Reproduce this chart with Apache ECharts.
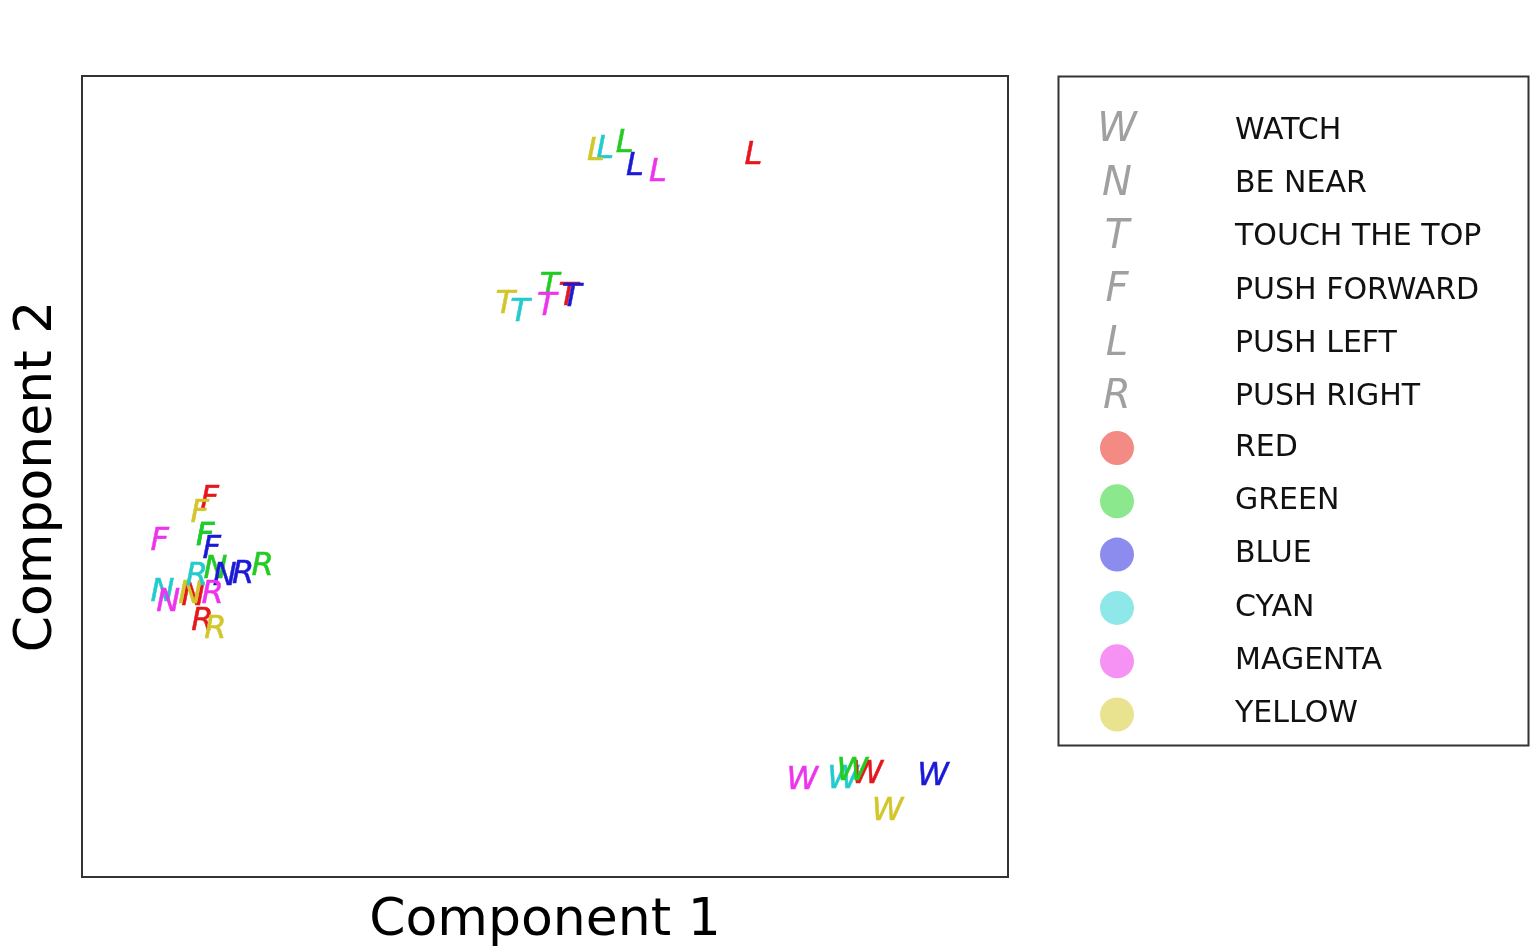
<!DOCTYPE html>
<html>
<head>
<meta charset="utf-8">
<title>Component 1 vs Component 2</title>
<script src="https://cdn.jsdelivr.net/npm/echarts@6/dist/echarts.min.js"></script>
<style>
  html, body { margin: 0; padding: 0; background: #fff; }
  #chart { width: 1538px; height: 952px; }
</style>
</head>
<body>
<div id="chart"></div>
<script>
// actions, their letter markers and the colour of each repetition
const actions = ['WATCH', 'BE NEAR', 'TOUCH THE TOP', 'PUSH FORWARD', 'PUSH LEFT', 'PUSH RIGHT']
const letters = ['W', 'N', 'T', 'F', 'L', 'R']
const colorNames = ['RED', 'GREEN', 'BLUE', 'CYAN', 'MAGENTA', 'YELLOW']

// values below follow colorNames order: red, green, blue, cyan, magenta, yellow
const watchX = [84.8, 83.2, 91.9, 82.2, 77.8, 87.0]
const watchY = [12.8, 13.2, 12.5, 12.2, 12.0, 8.2]
const nearX = [12.0, 14.4, 15.4, 8.7, 9.3, 11.7]
const nearY = [35.0, 38.4, 37.5, 35.5, 34.3, 35.3]
const topX = [52.5, 50.5, 52.9, 47.3, 50.2, 45.7]
const topY = [72.4, 73.7, 72.3, 70.4, 71.2, 71.4]
const forwardX = [13.8, 13.3, 14.0, 13.3, 8.4, 12.7]
const forwardY = [47.1, 42.5, 40.9, 42.5, 41.8, 45.3]
const leftX = [72.5, 58.6, 59.7, 56.5, 62.2, 55.5]
const leftY = [90.1, 91.6, 88.7, 90.8, 87.9, 90.5]
const rightX = [13.0, 19.5, 17.4, 12.4, 14.1, 14.4]
const rightY = [31.9, 38.7, 37.8, 37.5, 35.3, 30.9]

const xValues = [watchX, nearX, topX, forwardX, leftX, rightX]
const yValues = [watchY, nearY, topY, forwardY, leftY, rightY]

// 文字颜色与图例圆点颜色（半透明效果）
const letterColors = ['#e5161c', '#22cc22', '#1a1ad6', '#22cccc', '#ee33ee', '#d2c62a']
const dotColors = ['#f38a84', '#8ce88c', '#8c8cee', '#8ee8ea', '#f592f3', '#e9e28e']
// cyan is drawn first so it sits under the others
const drawOrder = [3, 0, 1, 2, 4, 5]

const chart = echarts.init(document.getElementById('chart'))

const actionSeries = actions.map((name, a) => ({
  name: name,
  type: 'scatter',
  symbolSize: 2,
  itemStyle: { color: 'transparent', opacity: 1 },
  label: {
    show: true,
    position: 'inside',
    formatter: letters[a],
    fontFamily: 'DejaVu Sans',
    fontStyle: 'italic',
    fontSize: 32,
    opacity: 1
  },
  data: drawOrder.map(c => ({
    value: [xValues[a][c], yValues[a][c]],
    label: { color: letterColors[c], textBorderColor: letterColors[c], textBorderWidth: 0.5 }
  }))
}))

// empty series only so the colour legend has entries
const colorSeries = colorNames.map((name, c) => ({
  name: name,
  type: 'scatter',
  itemStyle: { color: dotColors[c], opacity: 1 },
  data: []
}))

const option = {
  backgroundColor: '#fff',
  animation: false,
  grid: {
    left: 82,
    top: 76,
    width: 926,
    height: 802,
    show: true,
    borderColor: '#333',
    borderWidth: 2
  },
  xAxis: {
    type: 'value',
    min: 0,
    max: 100,
    name: 'Component 1',
    nameLocation: 'middle',
    nameGap: 18,
    nameTextStyle: { fontFamily: 'DejaVu Sans', fontSize: 52, color: '#000' },
    axisLine: { show: false },
    axisTick: { show: false },
    axisLabel: { show: false },
    splitLine: { show: false }
  },
  yAxis: {
    type: 'value',
    min: 0,
    max: 100,
    name: 'Component 2',
    nameLocation: 'middle',
    nameGap: 19,
    nameTextStyle: { fontFamily: 'DejaVu Sans', fontSize: 52, color: '#000' },
    axisLine: { show: false },
    axisTick: { show: false },
    axisLabel: { show: false },
    splitLine: { show: false }
  },
  legend: [
    {
      data: actions.map(n => ({ name: n, icon: 'none' })),
      orient: 'vertical',
      left: 1097,
      top: 111,
      padding: 0,
      itemGap: 13.3,
      itemWidth: 0,
      itemHeight: 0,
      selectedMode: false,
      formatter: name => '{l|' + letters[actions.indexOf(name)] + '}{t|' + name + '}',
      textStyle: {
        rich: {
          l: { fontFamily: 'DejaVu Sans', fontStyle: 'italic', fontSize: 40, color: '#a0a0a0', width: 30, align: 'center', lineHeight: 40 },
          t: { fontFamily: 'DejaVu Sans', fontSize: 30, color: '#111', padding: [0, 0, 0, 103], lineHeight: 40 }
        }
      }
    },
    {
      data: colorNames.map(n => ({ name: n, icon: 'circle' })),
      orient: 'vertical',
      left: 1100,
      top: 431,
      padding: 0,
      itemGap: 19.3,
      itemWidth: 34,
      itemHeight: 34,
      selectedMode: false,
      formatter: name => '{t|' + name + '}',
      textStyle: {
        rich: {
          t: { fontFamily: 'DejaVu Sans', fontSize: 30, color: '#111', padding: [0, 0, 0, 96] }
        }
      }
    }
  ],
  graphic: [
    {
      type: 'rect',
      left: 1056,
      top: 74,
      shape: { width: 470, height: 669 },
      style: { fill: 'none', stroke: '#333', lineWidth: 2 }
    }
  ],
  series: actionSeries.concat(colorSeries)
}

chart.setOption(option)
window.addEventListener('resize', () => chart.resize())
</script>
</body>
</html>
